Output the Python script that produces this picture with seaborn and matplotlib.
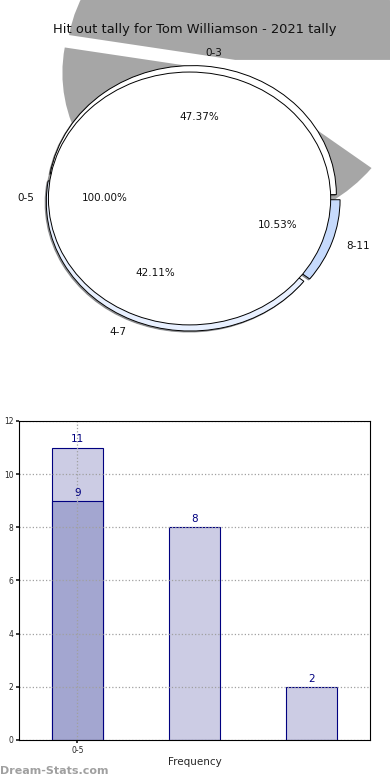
import numpy as np
import matplotlib
matplotlib.use('Agg')
import matplotlib.pyplot as plt
import matplotlib.patches as mpatches
import seaborn as sns

# pie data
pie_labels = ['0-3', '4-7', '8-11']
pie_counts = [9, 8, 2]
pie_colors = ['#ffffff', '#e8f0ff', '#c6dafc']
inner_labels = ['0-5']
inner_counts = [11]

# bar data
bar_cats = ['0-3', '4-7', '8-11']
bar_totals = [11, 8, 2]
bar_first = [9]
bar_ticklabels = ['0-5']
y_ticks = [0, 2, 4, 6, 8, 10, 12]

title = 'Hit out tally for Tom Williamson - 2021 tally'

sns.set_theme(style='white')
plt.rcParams['font.family'] = ['DejaVu Sans']

fig = plt.figure(figsize=(3.9, 7.8), dpi=100)

# ---- pie (stretched to an ellipse) ----
ax1 = fig.add_axes([0.0308, 0.5388, 0.923, 0.4135])
wp = dict(edgecolor='black', linewidth=0.7)
tp = dict(fontsize=7.5, color='#111111')
ax1.pie(pie_counts, labels=pie_labels, colors=pie_colors, autopct='%.2f%%',
        explode=[0.03] * len(pie_counts), shadow={'ox': -0.006, 'oy': -0.006},
        wedgeprops=wp, textprops=tp)
ax1.pie(inner_counts, labels=inner_labels, colors=['white'], autopct='%.2f%%',
        radius=0.98, center=(-0.017, 0), shadow={'ox': -0.01, 'oy': -0.004},
        wedgeprops=wp, textprops=tp)
ax1.set_aspect('auto')
ax1.set_xlim(-1.25, 1.25)
ax1.set_ylim(-1.25, 1.25)

# the big misplaced shadows of the original
bounds = np.concatenate([[0], np.cumsum(pie_counts)]) / sum(pie_counts) * 360
ax1.add_patch(mpatches.Wedge((0.30, 1.074), 1.17, bounds[0], bounds[1],
                             facecolor='#a6a6a6', edgecolor='none', zorder=0, clip_on=False))
ax1.add_patch(mpatches.Wedge((0.30, 0.973), 1.2, bounds[1], bounds[2],
                             facecolor='#a6a6a6', edgecolor='none', zorder=0, clip_on=False))

fig.text(0.5, 1 - 30 / 780, title, ha='center', va='center', fontsize=9.4, color='#111111')

# ---- bars ----
ax2 = fig.add_axes([0.0487, 0.0513, 0.9, 0.409])
sns.barplot(x=bar_cats, y=bar_totals, order=bar_cats, color='#ccccE4', saturation=1,
            width=0.44, edgecolor='navy', linewidth=0.8, ax=ax2, zorder=1)
sns.barplot(x=bar_cats[:1], y=bar_first, order=bar_cats, color='#a3a6d0', saturation=1,
            width=0.44, edgecolor='navy', linewidth=0.8, ax=ax2, zorder=1.5)

for i, v in enumerate(bar_totals):
    ax2.text(i, v + 0.12, str(v), ha='center', va='bottom', color='navy', fontsize=7.5, zorder=5)
for i, v in enumerate(bar_first):
    ax2.text(i, v + 0.12, str(v), ha='center', va='bottom', color='navy', fontsize=7.5, zorder=5)

ax2.set_xlim(-0.5, 2.5)
ax2.set_ylim(0, 12)
ax2.set_yticks(y_ticks)
ax2.set_xticks([0])
ax2.set_xticklabels(bar_ticklabels)
ax2.tick_params(labelsize=5.5, length=2, left=True, bottom=True, pad=2)
ax2.set_axisbelow(False)
ax2.grid(True, linestyle=':', color='#a0a0a0', linewidth=0.9, zorder=2)
for s in ax2.spines.values():
    s.set_color('black')
    s.set_linewidth(0.8)
    s.set_zorder(4)
ax2.set_xlabel('Frequency', fontsize=7.5, labelpad=2)
ax2.set_ylabel('Hit out tally', fontsize=7, labelpad=3)

fig.text(0.0, 4 / 780, 'Dream-Stats.com', fontsize=8, color='#a0a0a0',
         fontweight='bold', ha='left', va='bottom')

fig.savefig('out.png', dpi=100)
